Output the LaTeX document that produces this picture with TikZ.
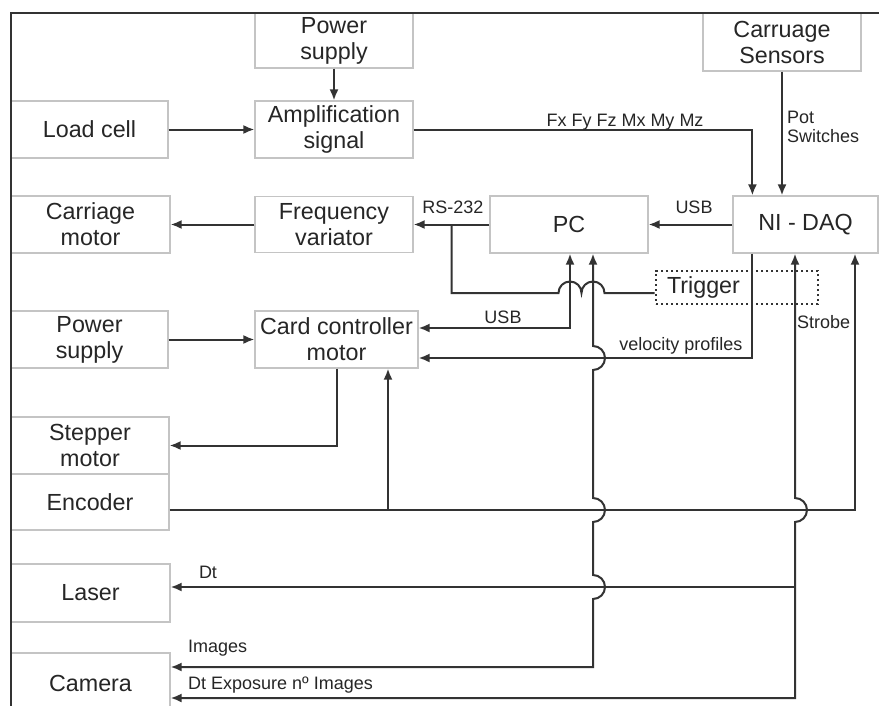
\documentclass[tikz,border=0pt]{standalone}
\usepackage{fontspec}
\setmainfont{Liberation Sans}
\usetikzlibrary{arrows.meta,calc}
\definecolor{boxgray}{HTML}{C4C4C4}
\definecolor{ln}{HTML}{333333}
\definecolor{txt}{HTML}{262626}
\newcommand\bigtxt{\fontsize{23.3}{26}\selectfont}
\newcommand\smalltxt{\fontsize{18}{20}\selectfont}
\begin{document}
\begin{tikzpicture}[x=1pt,y=-1pt,
  >={Latex[length=11pt,width=9pt]},
  box/.style={draw=boxgray,line width=1.2pt,inner sep=0pt,align=center,font=\bigtxt,text=txt},
  conn/.style={draw=ln,line width=2pt},
  lbl/.style={font=\smalltxt,text=txt,inner sep=0pt}]
\fill[white] (0,0) rectangle (879,705);
\clip (0,0) rectangle (879,705);

% boxes
\node[box,minimum width=158pt,minimum height=55pt] (ps1) at (334,40.5) {Power\\supply};
\node[box,minimum width=158pt,minimum height=57pt] (amp) at (334,129.5) {Amplification\\signal};
\node[box,minimum width=157pt,minimum height=57pt] (load) at (89.5,129.5) {Load cell};
\node[box,minimum width=158pt,minimum height=58pt] (sens) at (782,42) {Carruage\\Sensors};
\node[box,minimum width=159pt,minimum height=57pt] (cm) at (90.5,224.5) {Carriage\\motor};
\node[box,minimum width=158pt,minimum height=56pt] (fv) at (334,224.5) {Frequency\\variator};
\node[box,minimum width=158pt,minimum height=57pt] (pc) at (569,224.5) {PC};
\node[box,minimum width=145pt,minimum height=57pt] (daq) at (805.5,224.5) {NI - DAQ};
\node[box,minimum width=157pt,minimum height=57pt] (ps2) at (89.5,339.5) {Power\\supply};
\node[box,minimum width=163pt,minimum height=57pt] (ccm) at (336.5,339.5) {Card controller\\motor};
\node[box,minimum width=158pt,minimum height=57pt] (step) at (90,445.5) {Stepper\\motor};
\node[box,minimum width=158pt,minimum height=56pt] (enc) at (90,502) {Encoder};
\node[box,minimum width=159pt,minimum height=58pt] (laser) at (90.5,593) {Laser};
\node[box,minimum width=159pt,minimum height=60pt] (cam) at (90.5,683) {Camera};
\node[draw=ln,line width=2.6pt,line cap=butt,dash pattern=on 2.4pt off 2.6pt,inner xsep=11pt,inner ysep=0pt,
      text width=140pt,align=left,minimum height=33pt,font=\bigtxt,text=txt] (trig) at (737,287.5) {Trigger};

% frame
\draw[ln,line width=2pt] (895,13) -- (11,13) -- (11,720);

% connectors
\draw[conn,->] (ps1.south) -- (amp.north);
\draw[conn,->] (load.east) -- (amp.west);
\draw[conn,->] (amp.east) -| ($(daq.north west)+(20,0)$);
\node[lbl,anchor=base] at (625,126) {Fx Fy Fz Mx My Mz};
\draw[conn,->] (sens.south) -- (sens.south |- daq.north);
\node[lbl,anchor=base west] at (787,123) {Pot};
\node[lbl,anchor=base west] at (787,142) {Switches};

\draw[conn,->] (daq.west) -- (pc.east);
\node[lbl,anchor=base] at (694,213) {USB};
\draw[conn,->] (pc.west) -- (fv.east);
\node[lbl,anchor=base] at (453,213) {RS-232};
\draw[conn,->] (fv.west) -- (cm.east);
\draw[conn,->] (ps2.east) -- (ccm.west);

% trigger line
\coordinate (rsj) at ($(fv.east)!0.5!(pc.west)$);
\draw[conn] (rsj) -- (rsj |- 0,293) -- (558.5,293)
  arc[start angle=180,end angle=0,radius=11.5pt]
  arc[start angle=180,end angle=0,radius=11.5pt]
  -- ($(trig.west)+(0,5.5)$);

% USB to card controller
\draw[conn,<->] ($(ccm.east)+(0,-11.5)$) -| ($(pc.south)+(1,0)$);
\node[lbl,anchor=base] at (503,323) {USB};

% velocity profiles
\draw[conn,->] ($(daq.south)+(-53.5,0)$) |- ($(ccm.east)+(0,18.5)$);
\node[lbl,anchor=base] at (681,350) {velocity profiles};

% stepper
\draw[conn,->] (ccm.south) |- (step.east);

% encoder
\draw[conn,->] ($(enc.east)+(0,8)$) -| ($(daq.south)+(49.5,0)$);
\draw[conn,->] (388,510) -- ($(ccm.south)+(51.5,0)$);

% images line with hops
\draw[conn,<->] ($(cam.east)+(0,-16)$) -- (593,667) -- (593,599)
  arc[start angle=-90,end angle=90,radius=12pt] -- (593,522)
  arc[start angle=-90,end angle=90,radius=12pt] -- (593,370)
  arc[start angle=-90,end angle=90,radius=12pt] -- ($(pc.south)+(24,0)$);

% strobe line
\draw[conn,<->] ($(cam.east)+(0,15)$) -- (795,698) -- (795,522)
  arc[start angle=-90,end angle=90,radius=12pt] -- ($(daq.south)+(-10.5,0)$);
\node[lbl,anchor=base west] at (797,328) {Strobe};
\coordinate (dtj) at (795,587);
\draw[conn,->] (dtj) -- ($(laser.east)+(0,-6)$);

\node[lbl,anchor=base] at (208,578) {Dt};
\node[lbl,anchor=base west] at (188,652) {Images};
\node[lbl,anchor=base west] at (188,689) {Dt Exposure nº Images};
\end{tikzpicture}
\end{document}
